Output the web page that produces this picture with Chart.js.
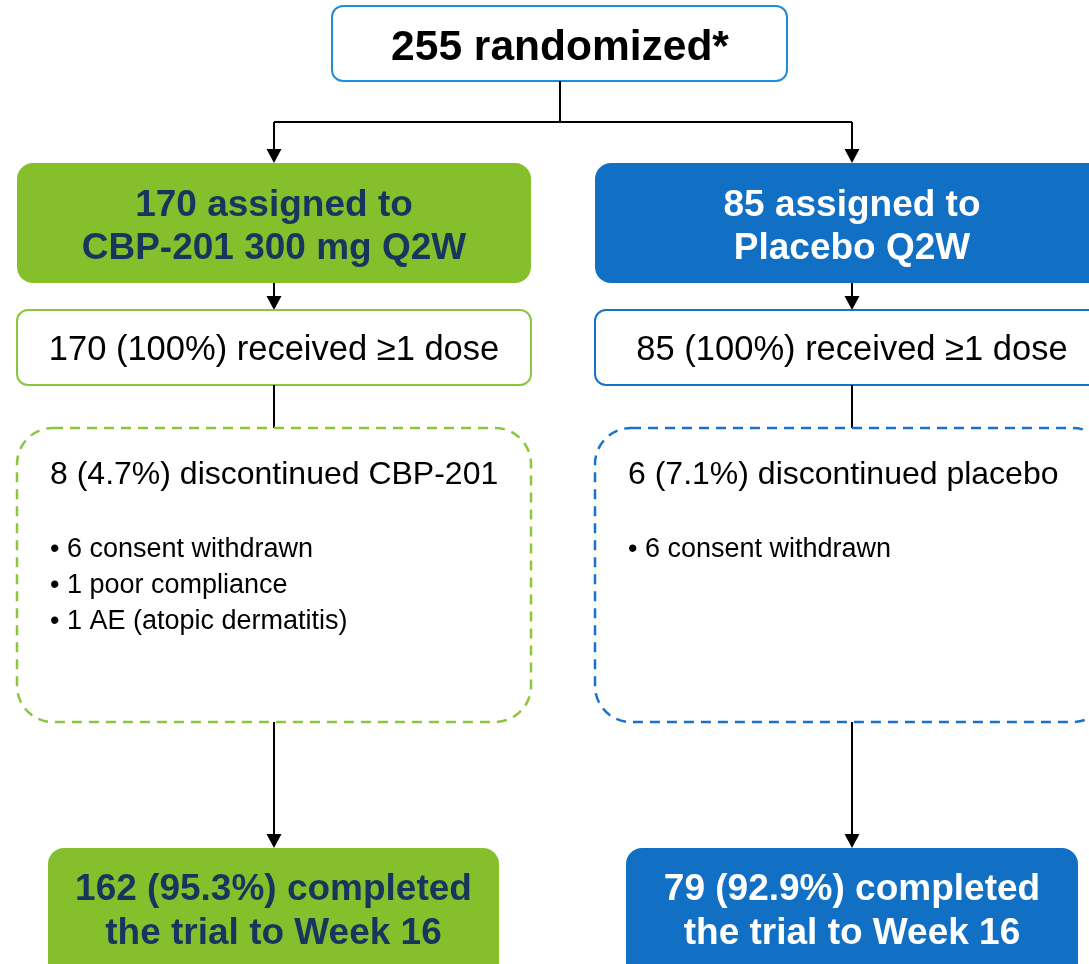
<!DOCTYPE html>
<html>
<head>
<meta charset="utf-8">
<script src="https://cdn.jsdelivr.net/npm/chart.js@4"></script>
<style>
  html, body { margin: 0; padding: 0; background: #fff; }
  #flujo { display: block; }
</style>
</head>
<body>
<canvas id="flujo" width="1089" height="964"></canvas>
<script>
// datos del diagrama
const randomizedN = 255;
const armNames = ['CBP-201 300 mg Q2W', 'Placebo Q2W'];
const assignedN = [170, 85];
const receivedN = [170, 85];
const receivedPct = [100, 100];
const discontinuedN = [8, 6];
const discontinuedPct = [4.7, 7.1];
const discontinuedDrug = ['CBP-201', 'placebo'];
const discontinuedReasons = [
  ['6 consent withdrawn', '1 poor compliance', '1 AE (atopic dermatitis)'],
  ['6 consent withdrawn']
];
const completedN = [162, 79];
const completedPct = [95.3, 92.9];

// layout (unidades de la escala, no datos)
const armLeft = [17, 595];
const armRight = [531, 1109];
const armMid = [274, 852];
const doneLeft = [48, 626];
const doneRight = [499, 1078];
const fillColor = ['#85bf2b', '#1270c4'];
const fillText = ['#17365d', '#ffffff'];
const lineColor = ['#8cc63f', '#1a72c8'];

const FONT = '"Liberation Sans", Arial, sans-serif';

function roundBox(ctx, x0, y0, x1, y1, r) {
  ctx.beginPath();
  ctx.moveTo(x0 + r, y0);
  ctx.lineTo(x1 - r, y0);
  ctx.arcTo(x1, y0, x1, y0 + r, r);
  ctx.lineTo(x1, y1 - r);
  ctx.arcTo(x1, y1, x1 - r, y1, r);
  ctx.lineTo(x0 + r, y1);
  ctx.arcTo(x0, y1, x0, y1 - r, r);
  ctx.lineTo(x0, y0 + r);
  ctx.arcTo(x0, y0, x0 + r, y0, r);
  ctx.closePath();
}

const diagrama = {
  id: 'diagrama',
  afterDatasetsDraw(chart) {
    const ctx = chart.ctx;
    const sx = chart.scales.x, sy = chart.scales.y;
    const X = v => sx.getPixelForValue(v);
    const Y = v => sy.getPixelForValue(v);

    const line = (x0, y0, x1, y1) => {
      ctx.save();
      ctx.strokeStyle = '#000';
      ctx.lineWidth = 2;
      ctx.beginPath();
      ctx.moveTo(X(x0), Y(y0));
      ctx.lineTo(X(x1), Y(y1));
      ctx.stroke();
      ctx.restore();
    };
    const arrow = (x, y0, y1) => {
      line(x, y0, x, y1 - 10);
      ctx.save();
      ctx.fillStyle = '#000';
      ctx.beginPath();
      ctx.moveTo(X(x) - 7.5, Y(y1 - 14));
      ctx.lineTo(X(x) + 7.5, Y(y1 - 14));
      ctx.lineTo(X(x), Y(y1));
      ctx.closePath();
      ctx.fill();
      ctx.restore();
    };
    const text = (str, x, y, font, color, align) => {
      ctx.save();
      ctx.font = font;
      ctx.fillStyle = color;
      ctx.textAlign = align || 'center';
      ctx.textBaseline = 'middle';
      ctx.fillText(str, X(x), Y(y));
      ctx.restore();
    };

    // caja superior
    ctx.save();
    roundBox(ctx, X(332), Y(6), X(787), Y(81), 11);
    ctx.fillStyle = '#fff';
    ctx.fill();
    ctx.strokeStyle = '#1b90d8';
    ctx.lineWidth = 2;
    ctx.stroke();
    ctx.restore();
    text(`${randomizedN} randomized*`, 560, 48, `bold 42.5px ${FONT}`, '#000');

    line(560, 81, 560, 122);
    line(armMid[0], 122, armMid[1], 122);

    armNames.forEach((name, i) => {
      const l = armLeft[i], r = armRight[i], m = armMid[i];
      arrow(m, 122, 163);

      // asignados
      ctx.save();
      roundBox(ctx, X(l), Y(163), X(r), Y(283), 16);
      ctx.fillStyle = fillColor[i];
      ctx.fill();
      ctx.restore();
      text(`${assignedN[i]} assigned to`, m, 206, `bold 37px ${FONT}`, fillText[i]);
      text(name, m, 249, `bold 37px ${FONT}`, fillText[i]);

      arrow(m, 283, 310);

      // recibieron dosis
      ctx.save();
      roundBox(ctx, X(l), Y(310), X(r), Y(385), 11);
      ctx.fillStyle = '#fff';
      ctx.fill();
      ctx.strokeStyle = lineColor[i];
      ctx.lineWidth = 2;
      ctx.stroke();
      ctx.restore();
      text(`${receivedN[i]} (${receivedPct[i]}%) received \u22651 dose`, m, 350, `34.5px ${FONT}`, '#000');

      line(m, 385, m, 428);

      // discontinuados
      ctx.save();
      roundBox(ctx, X(l), Y(428), X(r), Y(722), 36);
      ctx.fillStyle = '#fff';
      ctx.fill();
      ctx.strokeStyle = lineColor[i];
      ctx.lineWidth = 2.5;
      ctx.setLineDash([10, 7]);
      ctx.stroke();
      ctx.restore();
      text(`${discontinuedN[i]} (${discontinuedPct[i]}%) discontinued ${discontinuedDrug[i]}`,
        l + 33, 475, `32px ${FONT}`, '#000', 'left');
      discontinuedReasons[i].forEach((motivo, k) => {
        text(`\u2022 ${motivo}`, l + 33, 550 + k * 36, `27px ${FONT}`, '#000', 'left');
      });

      arrow(m, 722, 848);

      // completaron
      ctx.save();
      roundBox(ctx, X(doneLeft[i]), Y(848), X(doneRight[i]), Y(1000), 16);
      ctx.fillStyle = fillColor[i];
      ctx.fill();
      ctx.restore();
      const dm = (doneLeft[i] + doneRight[i]) / 2;
      text(`${completedN[i]} (${completedPct[i]}%) completed`, dm, 890, `bold 37px ${FONT}`, fillText[i]);
      text('the trial to Week 16', dm, 934, `bold 37px ${FONT}`, fillText[i]);
    });
  }
};

new Chart(document.getElementById('flujo').getContext('2d'), {
  type: 'scatter',
  data: {
    datasets: [{
      data: [],
      pointRadius: 0
    }]
  },
  options: {
    responsive: false,
    animation: false,
    layout: { padding: 0 },
    plugins: { legend: { display: false }, tooltip: { enabled: false } },
    scales: {
      x: { type: 'linear', min: 0, max: 1089, display: false },
      y: { type: 'linear', min: 0, max: 964, reverse: true, display: false }
    }
  },
  plugins: [diagrama]
});
</script>
</body>
</html>
